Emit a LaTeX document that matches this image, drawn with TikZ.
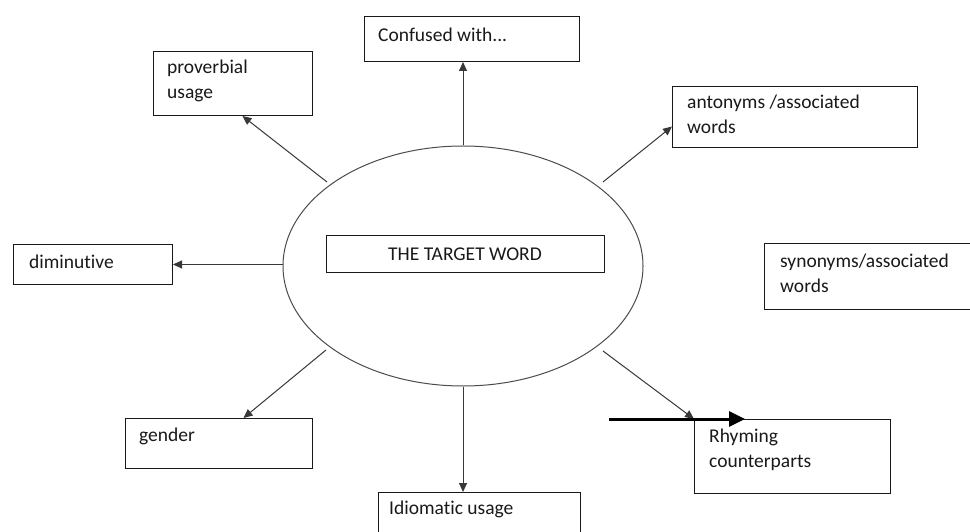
\documentclass[tikz,border=0pt]{standalone}
\usepackage{fontspec}
\setmainfont{Carlito}[Ligatures={NoCommon,NoContextual}]
\usetikzlibrary{shapes.geometric,arrows.meta}
\newcommand\boxfont{\fontsize{19.5bp}{25.5bp}\selectfont}
\begin{document}
\begin{tikzpicture}[x=1bp, y=-1bp,
  box/.style={draw=black!90, line width=1bp, inner sep=0pt, anchor=north west},
  txt/.style={anchor=north west, inner sep=0pt, align=left, font=\boxfont, text=black!90},
  link/.style={draw=black!78, line width=1bp, -{Triangle[length=9bp,width=8bp]}},
  boldlink/.style={draw=black, line width=3bp, -{Triangle[length=16bp,width=15bp]}}]
\useasboundingbox[fill=white] (0,0) rectangle (970,532);

% central ellipse with the target word
\node[draw=black!70, line width=1bp, ellipse, inner sep=0pt,
      minimum width=360bp, minimum height=240bp] (ell) at (463,266) {};
\node[box, anchor=center, minimum width=278bp, minimum height=37bp,
      font=\boxfont, text=black!90] (targ) at (465,254.5) {THE TARGET WORD};

% surrounding boxes
\node[box, minimum width=215bp, minimum height=45bp] (conf) at (364,16) {};
\node[box, minimum width=159bp, minimum height=64bp] (prov) at (153,51) {};
\node[box, minimum width=245bp, minimum height=61bp] (anto) at (672,86) {};
\node[box, minimum width=215bp, minimum height=66bp] (syno) at (764,243) {};
\node[box, minimum width=159bp, minimum height=40bp] (dimi) at (13,244) {};
\node[box, minimum width=187bp, minimum height=50bp] (gend) at (125,418) {};
\node[box, minimum width=202bp, minimum height=60bp] (idio) at (378,492) {};
\node[box, minimum width=196bp, minimum height=74bp] (rhym) at (694,419) {};

% box texts
\node[txt] (conf-t) at (378,23.15) {\strut Confused with...};
\node[txt] (prov-t) at (167,55.15) {\strut proverbial\\usage};
\node[txt] (anto-t) at (687,90.15) {\strut antonyms /associated\\words};
\node[txt] (syno-t) at (780,249.15) {\strut synonyms/associated\\words};
\node[txt] (dimi-t) at (29,250.15) {\strut diminutive};
\node[txt] (gend-t) at (139,423.15) {\strut gender};
\node[txt] (idio-t) at (389,496.15) {\strut Idiomatic usage};
\node[txt] (rhym-t) at (709,424.15) {\strut Rhyming\\counterparts};

% start points of the diagonal connectors near the ellipse
\coordinate (e-nw) at (327,182);
\coordinate (e-ne) at (603,182);
\coordinate (e-sw) at (326,350);
\coordinate (e-se) at (603,351);
\coordinate (bold-start) at (609,419);

% connectors
\draw[link] (ell.north) -- (ell.north |- conf.south);
\draw[link] (e-nw) -- ([xshift=9.5bp]prov.south);
\draw[link] (e-ne) -- ([yshift=-9.5bp]anto.west);
\draw[link] (dimi.east -| ell.west) -- (dimi.east);
\draw[link] (e-sw) -- ([xshift=24.5bp]gend.north);
\draw[link] (ell.south) -- (ell.south |- idio.north);
\draw[link] (e-se) -- (rhym.north west);
\draw[boldlink] (bold-start) -- ([xshift=51bp]rhym.north west);
\end{tikzpicture}
\end{document}
